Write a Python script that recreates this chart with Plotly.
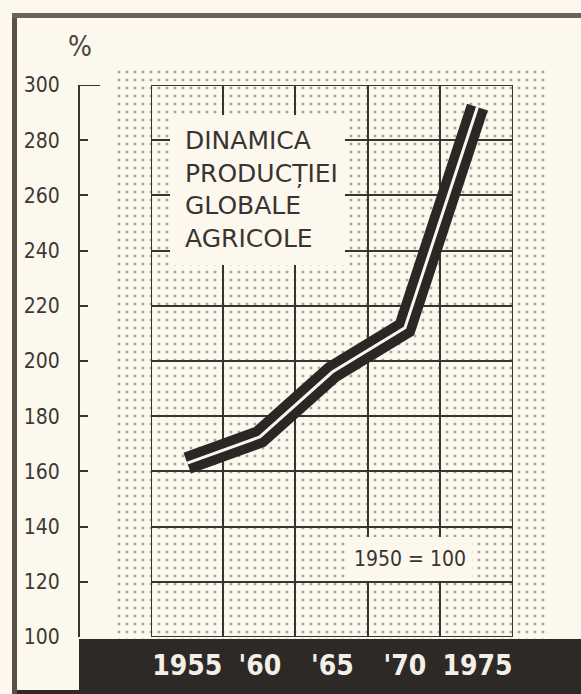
import plotly.graph_objects as go

# ---- data ----
years = [1955, 1960, 1965, 1970, 1975]
index_values = [163, 172.5, 196, 212, 292]          # 1950 = 100
x_tick_labels = ["1955", "'60", "'65", "'70", "1975"]
y_ticks = [100, 120, 140, 160, 180, 200, 220, 240, 260, 280, 300]
grid_years = [1957.45, 1962.45, 1967.45, 1972.45]
title_lines = ["DINAMICA", "PRODUCȚIEI", "GLOBALE", "AGRICOLE"]
base_note = "1950 = 100"
unit_label = "%"

# ---- style ----
W, H = 581, 694
PAPER = "#fcf8ee"
INK = "#3a3431"
BAND = "#2d2926"
NARROW = "Liberation Sans Narrow, DejaVu Sans Condensed, sans-serif"

X_RANGE = [1952.5, 1977.45]
Y_RANGE = [100, 300]


def px(xp):
    return xp / W


def py(yp):
    return 1 - yp / H


fig = go.Figure()

# dotted halftone background (subplot 1, decorative)
fig.add_trace(go.Scatter(
    x=[0, 1, 1, 0, 0], y=[0, 0, 1, 1, 0],
    xaxis="x", yaxis="y", mode="none", fill="toself",
    fillcolor="rgba(0,0,0,0)",
    fillpattern=dict(shape=".", size=8, solidity=0.11,
                     fgcolor="#554d47", bgcolor="rgba(0,0,0,0)"),
    hoverinfo="skip", showlegend=False,
))

# data line: thick black band with thin light centre line
fig.add_trace(go.Scatter(
    x=years, y=index_values, xaxis="x2", yaxis="y2", mode="lines",
    line=dict(color="#2b2725", width=22), hoverinfo="skip", showlegend=False,
))
fig.add_trace(go.Scatter(
    x=years, y=index_values, xaxis="x2", yaxis="y2", mode="lines",
    line=dict(color="#fbf7ee", width=3), showlegend=False,
))

shapes = [
    dict(type="rect", xref="paper", yref="paper", x0=px(79), x1=1, y0=0, y1=py(639),
         fillcolor=BAND, line_width=0, layer="below"),
    dict(type="rect", xref="paper", yref="paper", x0=px(12), x1=1, y0=0, y1=py(690),
         fillcolor=BAND, line_width=0, layer="below"),
    dict(type="rect", xref="paper", yref="paper", x0=px(12), x1=px(17), y0=0, y1=py(13),
         fillcolor="#5a504a", line_width=0, layer="below"),
    dict(type="rect", xref="paper", yref="paper", x0=px(12), x1=1, y0=py(18), y1=py(13),
         fillcolor="#6b625c", line_width=0, layer="below"),
    dict(type="rect", xref="x2", yref="y2", x0=X_RANGE[0], x1=X_RANGE[1],
         y0=Y_RANGE[0], y1=Y_RANGE[1], line=dict(color=INK, width=2),
         fillcolor="rgba(0,0,0,0)", layer="between"),
    dict(type="line", xref="paper", yref="y2", x0=px(79), x1=px(100), y0=300, y1=300,
         line=dict(color=INK, width=2), layer="above"),
    dict(type="rect", xref="paper", yref="paper", x0=px(170), x1=px(345),
         y0=py(265), y1=py(115), fillcolor=PAPER, line_width=0, layer="above"),
    dict(type="rect", xref="paper", yref="paper", x0=px(349), x1=px(472),
         y0=py(581), y1=py(537), fillcolor=PAPER, line_width=0, layer="above"),
]

annotations = [
    dict(text="<br>".join(title_lines), xref="paper", yref="paper",
         x=px(183), y=py(124), xanchor="left", yanchor="top", align="left",
         showarrow=False, font=dict(family="DejaVu Sans, sans-serif", size=25, color=INK)),
    dict(text=base_note, xref="paper", yref="paper", x=px(410), y=py(559),
         xanchor="center", yanchor="middle", showarrow=False,
         font=dict(family=NARROW, size=21, color=INK)),
    dict(text=unit_label, xref="paper", yref="paper", x=px(80), y=py(47),
         xanchor="center", yanchor="middle", showarrow=False,
         font=dict(family=NARROW, size=28, color="#4a4440")),
]

fig.update_layout(
    width=W, height=H, autosize=False,
    margin=dict(l=0, r=0, t=0, b=0, autoexpand=False),
    paper_bgcolor=PAPER, plot_bgcolor="rgba(0,0,0,0)",
    showlegend=False,
    xaxis=dict(domain=[px(115), px(549)], range=[0, 1], visible=False, fixedrange=True),
    yaxis=dict(domain=[py(639), py(68)], range=[0, 1], visible=False, fixedrange=True),
    xaxis2=dict(
        domain=[px(151), px(513)], range=X_RANGE, anchor="y2",
        tickmode="array", tickvals=years, ticktext=x_tick_labels,
        ticks="", showgrid=False, zeroline=False, showline=False, automargin=False,
        tickfont=dict(family=NARROW, size=28, color="#f4f0e8", weight="bold"),
        ticklabelstandoff=9,
        minor=dict(tickmode="array", tickvals=grid_years, showgrid=True,
                   gridcolor=INK, gridwidth=2, ticks=""),
    ),
    yaxis2=dict(
        domain=[py(637), py(85)], range=Y_RANGE, anchor="free", position=px(79),
        tickmode="array", tickvals=y_ticks, ticks="inside", ticklen=8,
        tickwidth=2, tickcolor=INK, showline=True, linecolor=INK, linewidth=2,
        showgrid=True, gridcolor=INK, gridwidth=2, zeroline=False, automargin=False,
        tickfont=dict(family=NARROW, size=21, color="#3d3835"),
        ticklabelstandoff=14,
    ),
    shapes=shapes,
    annotations=annotations,
)

fig.write_html(
    "out.html",
    config={"displayModeBar": False},
    post_script="document.documentElement.style.margin='0';"
                "document.body.style.margin='0';"
                "document.body.style.overflow='hidden';",
)
